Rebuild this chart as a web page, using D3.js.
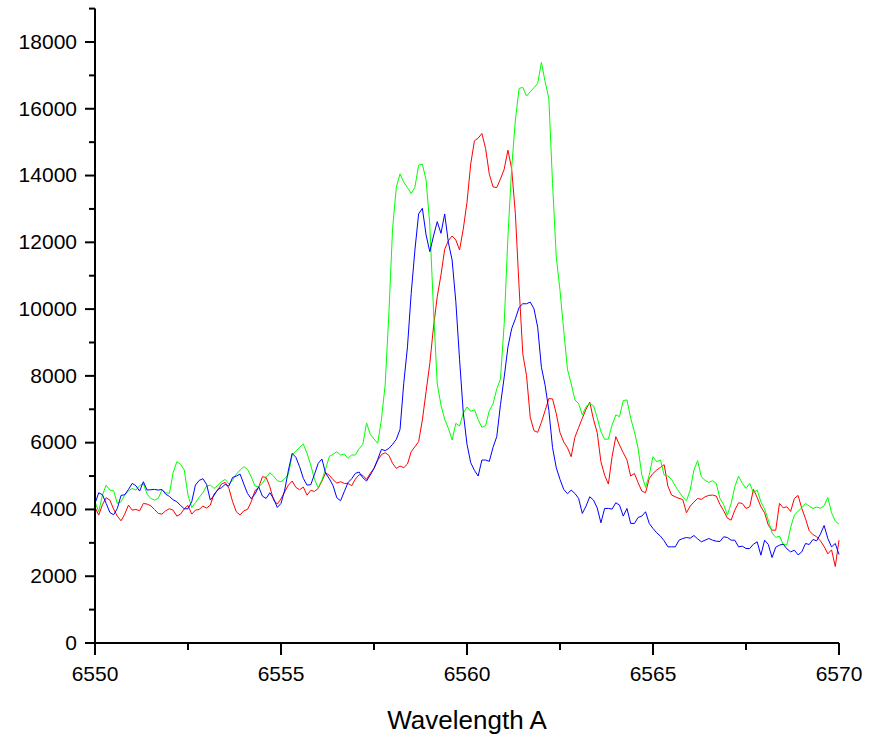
<!DOCTYPE html>
<html>
<head>
<meta charset="utf-8">
<title>Wavelength A</title>
<script src="https://d3js.org/d3.v7.min.js"></script>
<style>
    body { margin: 0; background: #fff; }
    svg { display: block; font-family: "Liberation Sans", Arial, sans-serif; }
    .axis path, .axis line { stroke: #000; stroke-width: 2; }
    .axis text { font-size: 21px; fill: #000; }
    .line { fill: none; stroke-width: 1; }
</style>
</head>
<body>
<svg width="878" height="737"></svg>
<script>
// spectrum sampled every 0.1 A from 6550 to 6570
var lambdaStart = 6550, lambdaStep = 0.1;

var green = [
    4230, 3930, 4430, 4730, 4580, 4560, 4180, 4230, 4430, 4560,
    4630, 4580, 4710, 4780, 4460, 4330, 4280, 4330, 4580, 4500,
    4480, 5100, 5430, 5350, 5180, 4430, 4060, 4200, 4360, 4500,
    4700, 4730, 4630, 4720, 4830, 4900, 4760, 4880, 5060, 5180,
    5280, 5200, 4980, 4700, 4680, 4780, 4960, 5100, 5000, 4860,
    4830, 4920, 5060, 5630, 5750, 5860, 5960, 5680, 5330, 4900,
    4650, 4880, 5220, 5590, 5650, 5730, 5630, 5660, 5530, 5630,
    5630, 5820, 5950, 6590, 6250, 6110, 5980, 6700, 7730, 9870,
    12420, 13650, 14050, 13800, 13640, 13460, 13650, 14310, 14340, 13870,
    12520, 9970, 7760, 7130, 6700, 6430, 6080, 6580, 6500, 6880,
    7070, 6940, 6990, 6690, 6460, 6510, 6960, 7160, 7610, 7910,
    9560, 12160, 14210, 15660, 16610, 16640, 16380, 16510, 16630, 16760,
    17390, 16810, 16310, 13760, 11560, 10560, 9360, 8200, 7770, 7280,
    7170, 6830, 7080, 7160, 7110, 6750, 6330, 6100, 6110, 6530,
    6830, 6780, 7260, 7280, 6730, 6330, 5830, 5030, 4660, 5030,
    5580, 5430, 5480, 5030, 5000, 4900, 4700, 4530, 4370, 4260,
    4580, 5180, 5460, 4980, 4870, 4810, 4860, 4780, 4330, 4140,
    3830, 4180, 4680, 5000, 4780, 4630, 4780, 4500, 4580, 4230,
    4010, 3680, 3300, 3160, 3200, 2950, 2940, 3460, 3830, 3950,
    4050, 4180, 4100, 4030, 4070, 4040, 4110, 4360, 3900, 3650,
    3560
];

var blue = [
    4180, 4500, 4440, 4180, 3910, 3840, 4030, 4420, 4440, 4600,
    4780, 4710, 4550, 4830, 4580, 4590, 4600, 4580, 4600, 4460,
    4390, 4290, 4230, 4120, 4020, 4020, 4230, 4730, 4870, 4920,
    4750, 4280, 4420, 4600, 4650, 4750, 4700, 4960, 5000, 5060,
    4760, 4480, 4320, 4460, 4680, 4400, 4330, 4500, 4330, 4060,
    4180, 4580, 5180, 5680, 5560, 5280, 4930, 4730, 4740, 5050,
    5380, 5510, 5080, 4920, 4710, 4350, 4260, 4530, 4800, 4920,
    5080, 5120, 4950, 4850, 5030, 5230, 5500, 5800, 5760, 5830,
    5950, 6100, 6400, 7780, 8870, 10470, 11770, 12850, 13020, 12220,
    11720, 12190, 12620, 12270, 12850, 11990, 11470, 10220, 8500, 6900,
    5950, 5400, 5170, 5000, 5480, 5480, 5440, 5860, 6180, 7140,
    7960, 8860, 9410, 9710, 10050, 10160, 10160, 10210, 10010, 9460,
    8260, 7720, 6970, 5850, 5250, 4900, 4600, 4470, 4580, 4480,
    4330, 3880, 4100, 4380, 4280, 4050, 3600, 4030, 4030, 4010,
    4200, 4130, 3800, 4030, 3580, 3580, 3760, 3800, 3930, 3580,
    3430, 3300, 3200, 3060, 2880, 2880, 2880, 3080, 3130, 3160,
    3140, 3220, 3120, 3030, 3080, 3130, 3080, 3050, 3040, 3180,
    3160, 3080, 3080, 2880, 2900, 2830, 2830, 2960, 3030, 2630,
    3080, 2950, 2560, 2870, 2930, 2960, 2820, 2730, 2780, 2640,
    2730, 2980, 2950, 3100, 3060, 3260, 3520, 3130, 2880, 2980,
    2650
];

var red = [
    4060, 3830, 4140, 4350, 4280, 4010, 3800, 3660, 3860, 4130,
    3980, 4000, 3960, 4180, 4160, 4110, 4000, 3880, 3860, 3960,
    4020, 3980, 3800, 3860, 4020, 4120, 3860, 3980, 4000, 4100,
    4040, 4130, 4460, 4580, 4760, 4810, 4630, 4230, 3930, 3830,
    3960, 4000, 4230, 4560, 4660, 4980, 4960, 4680, 4280, 4160,
    4320, 4530, 4730, 4850, 4660, 4590, 4670, 4430, 4570, 4540,
    4630, 4850, 5100, 5020, 4890, 4790, 4830, 4780, 4780, 4710,
    4910, 5040, 5020, 4900, 5080, 5230, 5470, 5640, 5700, 5620,
    5380, 5230, 5300, 5250, 5360, 5730, 5880, 6030, 6680, 7530,
    8370, 9470, 10370, 11020, 11790, 12050, 12190, 12070, 11770, 12400,
    13200, 14350, 15040, 15120, 15260, 14810, 14040, 13660, 13640, 13900,
    14190, 14760, 14210, 12860, 10660, 8660, 8010, 6760, 6360, 6310,
    6610, 6960, 7320, 7310, 6870, 6300, 6020, 5850, 5580, 6160,
    6450, 6730, 7000, 7210, 6700, 6300, 5430, 5030, 4760, 5580,
    6180, 5930, 5700, 5480, 5000, 5080, 4800, 4550, 4500, 4930,
    5080, 5180, 5260, 5340, 4700, 4430, 4380, 4330, 4300, 3900,
    4100, 4220, 4330, 4300, 4380, 4420, 4430, 4400, 4150, 3960,
    3740, 3680, 3980, 4200, 4180, 4030, 4080, 4600, 4360, 4080,
    3900, 3530, 3380, 3380, 4180, 4050, 4080, 3940, 4330, 4420,
    4030, 3720, 3360, 3250, 3180, 3060, 2890, 2670, 2790, 2290,
    3080
];

var xMajor = [6550, 6555, 6560, 6565, 6570];
var xMinor = [6552.5, 6557.5, 6562.5, 6567.5];
var yMajor = [0, 2000, 4000, 6000, 8000, 10000, 12000, 14000, 16000, 18000];
var yMinor = [1000, 3000, 5000, 7000, 9000, 11000, 13000, 15000, 17000, 19000];

var svg = d3.select("svg");

var x = d3.scaleLinear().domain([6550, 6570]).range([95, 839]);
var y = d3.scaleLinear().domain([0, 19000]).range([643, 8.6]);

function lambda(i) { return lambdaStart + i * lambdaStep; }

var line = d3.line()
    .x(function(d, i) { return x(lambda(i)); })
    .y(function(d) { return y(d); });

var series = [
    {values: red, color: "#ff0000"},
    {values: green, color: "#00ff00"},
    {values: blue, color: "#0000ff"}
];

series.forEach(function(s) {
    svg.append("path")
        .datum(s.values)
        .attr("class", "line")
        .attr("stroke", s.color)
        .attr("d", line);
});

// y axis: labelled major ticks + short minor ticks
svg.append("g")
    .attr("class", "axis")
    .attr("transform", "translate(95,0)")
    .call(d3.axisLeft(y).tickValues(yMajor).tickSize(10).tickSizeOuter(0)
        .tickPadding(8).tickFormat(d3.format("d")).offset(0));

svg.append("g")
    .attr("class", "axis")
    .attr("transform", "translate(95,0)")
    .call(d3.axisLeft(y).tickValues(yMinor).tickSize(6).tickSizeOuter(0)
        .tickFormat("").offset(0))
    .select(".domain").remove();

// x axis
svg.append("g")
    .attr("class", "axis")
    .attr("transform", "translate(0,643)")
    .call(d3.axisBottom(x).tickValues(xMajor).tickSize(12).tickSizeOuter(0)
        .tickPadding(11).tickFormat(d3.format("d")).offset(0));

svg.append("g")
    .attr("class", "axis")
    .attr("transform", "translate(0,643)")
    .call(d3.axisBottom(x).tickValues(xMinor).tickSize(7).tickSizeOuter(0)
        .tickFormat("").offset(0))
    .select(".domain").remove();

svg.selectAll(".axis text").attr("font-family", null);

svg.append("text")
    .attr("x", (95 + 839) / 2)
    .attr("y", 729)
    .attr("text-anchor", "middle")
    .style("font-size", "26px")
    .text("Wavelength A");
</script>
</body>
</html>
